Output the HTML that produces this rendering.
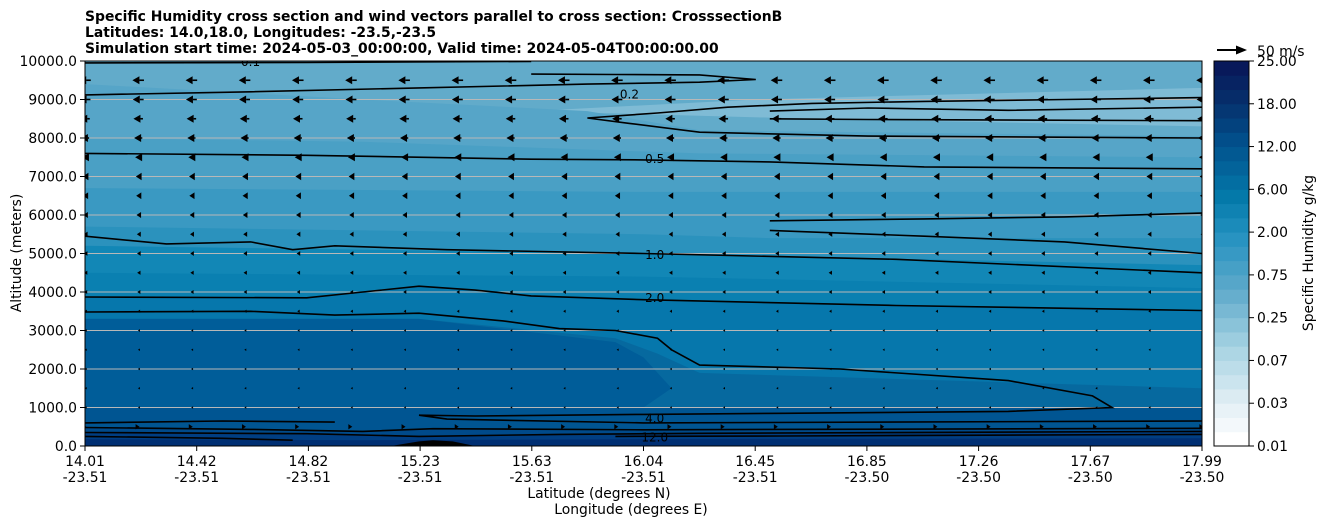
<!DOCTYPE html>
<html><head><meta charset="utf-8"><style>
html,body{margin:0;padding:0;background:#fff;}
svg{display:block;font-family:"DejaVu Sans","Liberation Sans",sans-serif;}
</style></head><body>
<svg id="chart" width="1326" height="526" viewBox="0 0 1326 526">
<g font-weight="bold" font-size="13.9">
<text x="85" y="21">Specific Humidity cross section and wind vectors parallel to cross section: CrosssectionB</text>
<text x="85" y="37">Latitudes: 14.0,18.0, Longitudes: -23.5,-23.5</text>
<text x="85" y="53">Simulation start time: 2024-05-03_00:00:00, Valid time: 2024-05-04T00:00:00.00</text>
</g>
<defs><clipPath id="pc"><rect x="85" y="61" width="1117" height="385"/></clipPath></defs>
<g id="fills" clip-path="url(#pc)"></g>
<g id="grid" clip-path="url(#pc)"></g>
<g id="contours" clip-path="url(#pc)"></g>
<g id="arrows" clip-path="url(#pc)"></g>
<rect x="85" y="61" width="1117" height="385" fill="none" stroke="#000" stroke-width="1"/>
<g id="axes" font-size="13.9"></g>
<g id="cbar"></g>
<g>
<line x1="1217" y1="50" x2="1238" y2="50" stroke="#000" stroke-width="2"/>
<polygon points="1247,50 1236,45.5 1236,54.5" fill="#000"/>
<text x="1257" y="56" font-size="13.9">50 m/s</text>
</g>
<text x="1313" y="253" font-size="13.9" transform="rotate(-90 1313 253)" text-anchor="middle">Specific Humidity g/kg</text>
<text x="21" y="253" font-size="13.9" transform="rotate(-90 21 253)" text-anchor="middle">Altitude (meters)</text>
<text x="599" y="498" font-size="13.9" text-anchor="middle">Latitude (degrees N)</text>
<text x="631" y="514" font-size="13.9" text-anchor="middle">Longitude (degrees E)</text>
</svg>
<script>
const NS="http://www.w3.org/2000/svg";
const latTicks=["14.01","14.42","14.82","15.23","15.63","16.04","16.45","16.85","17.26","17.67","17.99"];
const lonTicks=["-23.51","-23.51","-23.51","-23.51","-23.51","-23.51","-23.51","-23.50","-23.50","-23.50","-23.50"];
const altTicks=[0,1000,2000,3000,4000,5000,6000,7000,8000,9000,10000];
const cbarTicks=["0.01","0.03","0.07","0.25","0.75","2.00","6.00","12.00","18.00","25.00"];
const windAlt=[9500,9000,8500,8000,7500,7000,6500,6000,5500,5000,4500,4000,3500,3000,2500,2000,1500,1000,500];
const windU=[-17,-16,-14,-12,-9,-7,-6,-5,-4,-3.5,-3,-2.5,-1.5,-1,-0.8,-0.8,-0.8,-0.8,4];
const windLat=[];for(let i=0;i<22;i++)windLat.push(14.01+i*3.98/21);
const c01=[[14.01,9950],[14.8,9960],[15.6,9990]];
const c02a=[[14.01,9120],[14.6,9200],[15.2,9300],[15.8,9400],[16.2,9450],[16.4,9520],[16.2,9640],[15.9,9650],[15.6,9660]];
const c02b=[[17.99,9050],[17.5,9000],[17.0,8950],[16.6,8900],[16.3,8800],[16.05,8650],[15.8,8520],[15.95,8380],[16.2,8150],[16.8,8050],[17.99,8000]];
const c04=[[16.45,8500],[16.8,8480],[17.99,8450]];
const c04b=[[16.45,8700],[16.8,8780],[17.3,8720],[17.99,8800]];
const c05a=[[14.01,7600],[14.8,7550],[15.6,7450],[16.0,7430],[16.45,7380],[17.0,7250],[17.99,7200]];
const c05b=[[16.45,5850],[17.0,5900],[17.5,5950],[17.99,6050]];
const c05c=[[16.45,5600],[17.0,5450],[17.5,5300],[17.99,5000]];
const c10=[[14.01,5450],[14.3,5250],[14.6,5300],[14.75,5100],[14.9,5200],[15.3,5100],[16.0,5000],[16.9,4850],[17.99,4500]];
const c20=[[14.01,3870],[14.8,3850],[15.0,4000],[15.2,4150],[15.4,4050],[15.6,3900],[16.0,3800],[16.9,3650],[17.99,3520]];
const c30=[[14.01,3480],[14.6,3500],[14.9,3400],[15.2,3450],[15.5,3250],[15.7,3050],[15.9,3000],[16.05,2800],[16.1,2500],[16.2,2100],[16.7,2000],[17.3,1700],[17.6,1300],[17.67,1000],[17.3,900],[16.5,850],[16.0,820],[15.4,780],[15.2,800],[15.3,700],[16.0,600],[17.99,650]];
const c40=[[14.01,600],[14.5,650],[14.9,620]];
const c80a=[[14.01,480],[14.6,430],[15.0,380],[15.25,450],[16.0,420],[17.99,460]];
const c80b=[[14.01,350],[14.8,320],[15.2,250],[15.7,300],[16.2,330],[17.99,380]];
const c12=[[14.01,250],[14.5,200],[14.75,150]];
const c12b=[[15.9,250],[16.5,260],[17.99,300]];
function X(lat){return 85+(lat-14.01)/3.98*1117;}
function Y(a){return 446-a/10000*385;}
function el(t,a,p){const e=document.createElementNS(NS,t);for(const k in a)e.setAttribute(k,a[k]);(p||document.getElementById('chart')).appendChild(e);return e;}
function pts(arr){return arr.map(p=>X(p[0]).toFixed(1)+','+Y(p[1]).toFixed(1)).join(' ');}
const F=document.getElementById('fills');
function band(top,color,name){const p=[...top,[top[top.length-1][0],0],[top[0][0],0]];const e=el('polygon',{points:pts(p),fill:color},F);

}
band([[14.01,10000],[17.99,10000]],'#62abca','fill-top');
band([[15.6,8700],[16.4,9000],[17.99,9300],[17.99,8300],[16.6,8500],[15.6,8700]],'#7fbbd5','fill-dry-patch');
band([[14.01,9400],[15.0,9000],[15.8,8700],[16.2,8200],[17.99,8050]],'#56a5c8','fill-9000');
band([[14.01,8000],[15,7900],[16.2,7600],[17.99,7500]],'#4aa0c5','fill-8000');
band([[14.01,6700],[16,6600],[17.99,6600]],'#3a99c2','fill-6500');
band([[14.01,5700],[16,5500],[16.45,5400],[17.99,5400]],'#2b92bd','fill-5500');
band([[14.01,5200],[16,5000],[17.99,4700]],'#1287b6','fill-5000');
band([[14.01,4500],[16,4400],[17.99,4100]],'#0a80b1','fill-4500');
band(c20,'#0677ac','fill-below-2');
band([[14.01,3300],[15.2,3300],[15.9,2800],[16.05,2400],[16.2,1900],[17.99,1500]],'#06699f','fill-3000');
band([[14.01,3300],[15.2,3300],[15.9,2700],[16.0,2300],[16.1,1500],[16.0,1000],[14.01,1000]],'#005d99','fill-left-core');
band([[14.01,1000],[15.2,1000],[16,1000],[17.99,1000]],'#005592','fill-1000');
band(c80a,'#004a8a','fill-below-8');
band(c80b,'#003e82','fill-below-10');
band([[14.01,180],[15,150],[16,180],[17.99,200]],'#002f73','fill-bottom');
el('polygon',{points:pts([[15.1,0],[15.2,120],[15.25,150],[15.32,120],[15.4,0]]),fill:'#000',},F);
const G=document.getElementById('grid');
altTicks.slice(1,10).forEach(a=>{const l=el('line',{x1:85,x2:1202,y1:Y(a),y2:Y(a),stroke:'#b8b8b8','stroke-width':1},G);

});
const C=document.getElementById('contours');
[c01,c02a,c02b,c04,c04b,c05a,c05b,c05c,c10,c20,c30,c40,c80a,c80b,c12,c12b].forEach((c,i)=>{const l=el('polyline',{points:pts(c),fill:'none',stroke:'#000','stroke-width':1.6},C);

});
const labs=[["0.2",15.95,9130],["0.5",16.04,7450],["1.0",16.04,4960],["2.0",16.04,3850],["4.0",16.04,720],["12.0",16.04,220],["0.1",14.6,9970]];
labs.forEach(l=>{const t=el('text',{x:X(l[1]),y:Y(l[2])+4,'font-size':12,'text-anchor':'middle'},C);t.textContent=l[0];

});
const A=document.getElementById('arrows');const S=34/50;
windAlt.forEach((alt,r)=>{const u=windU[r];windLat.forEach(lat=>{const cx=X(lat),cy=Y(alt);const L=Math.abs(u)*S;const d=u<0?-1:1;
const hl=Math.min(7,L*0.9+1.5),hw=Math.min(4,hl*0.65);const tip=cx+d*L/2,tail=cx-d*L/2;
const g=el('g',{},A);


if(L>hl)el('line',{x1:tail,y1:cy,x2:tip-d*hl,y2:cy,stroke:'#000','stroke-width':1.6},g);
el('polygon',{points:`${tip},${cy} ${tip-d*hl},${cy-hw} ${tip-d*hl},${cy+hw}`,fill:'#000'},g);});});
const AX=document.getElementById('axes');
latTicks.forEach((t,i)=>{const x=85+i*111.7;el('line',{x1:x,x2:x,y1:446,y2:451,stroke:'#000'},AX);
const a=el('text',{x:x,y:466,'text-anchor':'middle'},AX);a.textContent=t;


const b=el('text',{x:x,y:482,'text-anchor':'middle'},AX);b.textContent=lonTicks[i];

});
altTicks.forEach(a=>{const y=Y(a);el('line',{x1:80,x2:85,y1:y,y2:y,stroke:'#000'},AX);
const t=el('text',{x:77,y:y+5,'text-anchor':'end'},AX);t.textContent=a.toFixed(1);

});
const CB=document.getElementById('cbar');
const stops=[[0,[255,255,255]],[0.1,[225,238,244]],[0.25,[165,210,226]],[0.4,[95,170,203]],[0.55,[35,145,192]],[0.65,[4,122,170]],[0.8,[2,80,140]],[0.9,[5,50,110]],[1,[8,25,90]]];
function col(t){for(let i=1;i<stops.length;i++){if(t<=stops[i][0]){const a=stops[i-1],b=stops[i];const f=(t-a[0])/(b[0]-a[0]);return 'rgb('+a[1].map((v,k)=>Math.round(v+(b[1][k]-v)*f)).join(',')+')';}}}
const N=27,h=385/N;
for(let i=0;i<N;i++)el('rect',{x:1214,y:446-(i+1)*h,width:35,height:h+0.5,fill:col(i/(N-1))},CB);
el('rect',{x:1214,y:61,width:35,height:385,fill:'none',stroke:'#000'},CB);
cbarTicks.forEach((t,i)=>{const y=446-i*385/9;el('line',{x1:1249,x2:1254,y1:y,y2:y,stroke:'#000'},CB);
const e=el('text',{x:1257,y:y+5,'font-size':13.9},CB);e.textContent=t;

});
</script>
</body></html>
